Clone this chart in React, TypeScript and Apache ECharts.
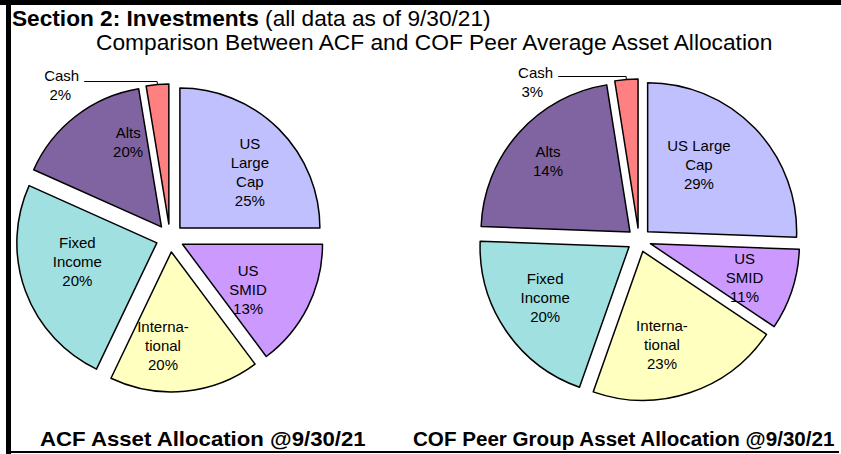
import React, { useEffect, useRef } from "react";
import * as echarts from "echarts";

const categories = ["US Large Cap", "US SMID", "International", "Fixed Income", "Alts", "Cash"];
const acfLabels = ["US\nLarge\nCap", "US\nSMID", "Interna-\ntional", "Fixed\nIncome", "Alts", "Cash"];
const cofLabels = ["US Large\nCap", "US\nSMID", "Interna-\ntional", "Fixed\nIncome", "Alts", "Cash"];
// percentages printed on the slices
const acfPercents = [25, 13, 20, 20, 20, 2];
const cofPercents = [29, 11, 23, 20, 14, 3];
// slice sizes as drawn in the picture (share of the full circle, %)
const acfShares = [25, 14.8, 17.3, 24.6, 15.7, 2.6];
const cofShares = [25.6, 8.8, 21.0, 20.2, 21.9, 2.5];
const sliceColors = ["#C0C0FF", "#CC99FF", "#FFFFC0", "#A0E0E0", "#8064A2", "#FF8080"];

const headerBold = "Section 2: Investments";
const headerNormal = "(all data as of 9/30/21)";
const subTitle = "Comparison Between ACF and COF Peer Average Asset Allocation";
const leftCaption = "ACF Asset Allocation @9/30/21";
const rightCaption = "COF Peer Group Asset Allocation @9/30/21";

const FONT = "'Liberation Sans', Arial, Helvetica, sans-serif";

// small nudges of the in-slice labels, to follow the original placement
const acfLabelNudge: [number, number][] = [[7, 7], [-14, 5], [-17, 5], [4, -12], [21, -14], [0, 0]];
const cofLabelNudge: [number, number][] = [[-20, 1], [0, 3], [-12, -1], [-2, -5], [-8, -5], [0, 0]];

function buildPie(
  shares: number[],
  percents: number[],
  labels: string[],
  center: [number, number],
  radius: number,
  offset: number,
  labelRadius: number,
  cashLen2: number,
  cashPadTop: number,
  cashPadRight: number,
  nudges: [number, number][]
) {
  const last = shares.length - 1;
  const slices: any = {
    type: "pie",
    center,
    radius: [0, radius],
    startAngle: 90,
    clockwise: true,
    selectedMode: "multiple",
    selectedOffset: offset,
    avoidLabelOverlap: false,
    silent: true,
    animation: false,
    itemStyle: { borderColor: "#000", borderWidth: 1.5 },
    emphasis: { disabled: true },
    select: { itemStyle: { borderColor: "#000", borderWidth: 1.5 } },
    data: shares.map((v, i) => ({
      name: categories[i],
      value: v,
      selected: true,
      itemStyle: { color: sliceColors[i] },
      label:
        i === last
          ? {
              show: true,
              position: "outside",
              formatter: `{a|${labels[i]}}\n{b|${percents[i]}%}`,
              color: "#000",
              fontFamily: FONT,
              fontSize: 15,
              lineHeight: 19,
              padding: [cashPadTop, 0, 0, 0],
              rich: {
                a: { fontSize: 15, fontFamily: FONT, color: "#000", lineHeight: 19 },
                b: { fontSize: 15, fontFamily: FONT, color: "#000", lineHeight: 19, padding: [0, cashPadRight, 0, 0] },
              },
            }
          : { show: false },
      labelLine:
        i === last
          ? { show: true, length: 3, length2: cashLen2, smooth: false, lineStyle: { color: "#000", width: 1 } }
          : { show: false },
    })),
  };
  const labelPie: any = {
    type: "pie",
    center,
    radius: [0, labelRadius],
    startAngle: 90,
    clockwise: true,
    selectedMode: "multiple",
    selectedOffset: offset,
    avoidLabelOverlap: false,
    silent: true,
    animation: false,
    itemStyle: { color: "rgba(0,0,0,0)", borderWidth: 0 },
    emphasis: { disabled: true },
    select: { itemStyle: { color: "rgba(0,0,0,0)", borderWidth: 0 } },
    labelLine: { show: false },
    label: {
      show: true,
      position: "inside",
      color: "#000",
      fontFamily: FONT,
      fontSize: 15,
      lineHeight: 19,
      align: "center",
    },
    labelLayout: (p: any) => {
      const n = nudges[p.dataIndex] || [0, 0];
      return { dx: n[0], dy: n[1] };
    },
    data: shares.map((v, i) => ({
      name: categories[i],
      value: v,
      selected: true,
      label: i === last ? { show: false } : { show: true, formatter: `${labels[i]}\n${percents[i]}%` },
    })),
  };
  return [slices, labelPie];
}

function textEl(text: string, x: number, y: number, size: number, bold: boolean, scaleX: number, rich?: any) {
  return {
    type: "text",
    x,
    y,
    scaleX,
    silent: true,
    style: {
      text,
      fill: "#000",
      font: `${bold ? "bold " : ""}${size}px ${FONT}`,
      verticalAlign: "middle",
      align: "left",
      rich,
    },
  };
}

export default function App() {
  const ref = useRef<HTMLDivElement>(null);
  useEffect(() => {
    if (!ref.current) return;
    const chart = echarts.init(ref.current, null, { renderer: "svg" });
    const option: any = {
      animation: false,
      backgroundColor: "#fff",
      graphic: [
        { type: "rect", shape: { x: 0, y: 0, width: 841, height: 5 }, style: { fill: "#000" }, silent: true },
        { type: "rect", shape: { x: 6, y: 0, width: 5, height: 454 }, style: { fill: "#000" }, silent: true },
        { type: "rect", shape: { x: 11, y: 451, width: 828, height: 2 }, style: { fill: "#000" }, silent: true },
        textEl(`{b|${headerBold}} {n|${headerNormal}}`, 12, 19, 22, false, 1.03, {
          b: { fontWeight: "bold", fontSize: 22, fontFamily: FONT, fill: "#000" },
          n: { fontWeight: "normal", fontSize: 22, fontFamily: FONT, fill: "#000" },
        }),
        textEl(subTitle, 96, 43, 22, false, 1.035),
        textEl(leftCaption, 40, 439, 20, true, 1.11),
        textEl(rightCaption, 413, 439, 20, true, 1.03),
      ],
      series: [
        ...buildPie(acfShares, acfPercents, acfLabels, [170, 238], 140, 14, 172, 73, 6, 8, acfLabelNudge),
        ...buildPie(cofShares, cofPercents, cofLabels, [639, 240], 149, 12, 192, 68, 10, 10, cofLabelNudge),
      ],
    };
    chart.setOption(option);
    return () => chart.dispose();
  }, []);
  return (
    <div
      ref={ref}
      style={{ position: "fixed", left: 0, top: 0, width: 841, height: 454, background: "#fff" }}
    />
  );
}
